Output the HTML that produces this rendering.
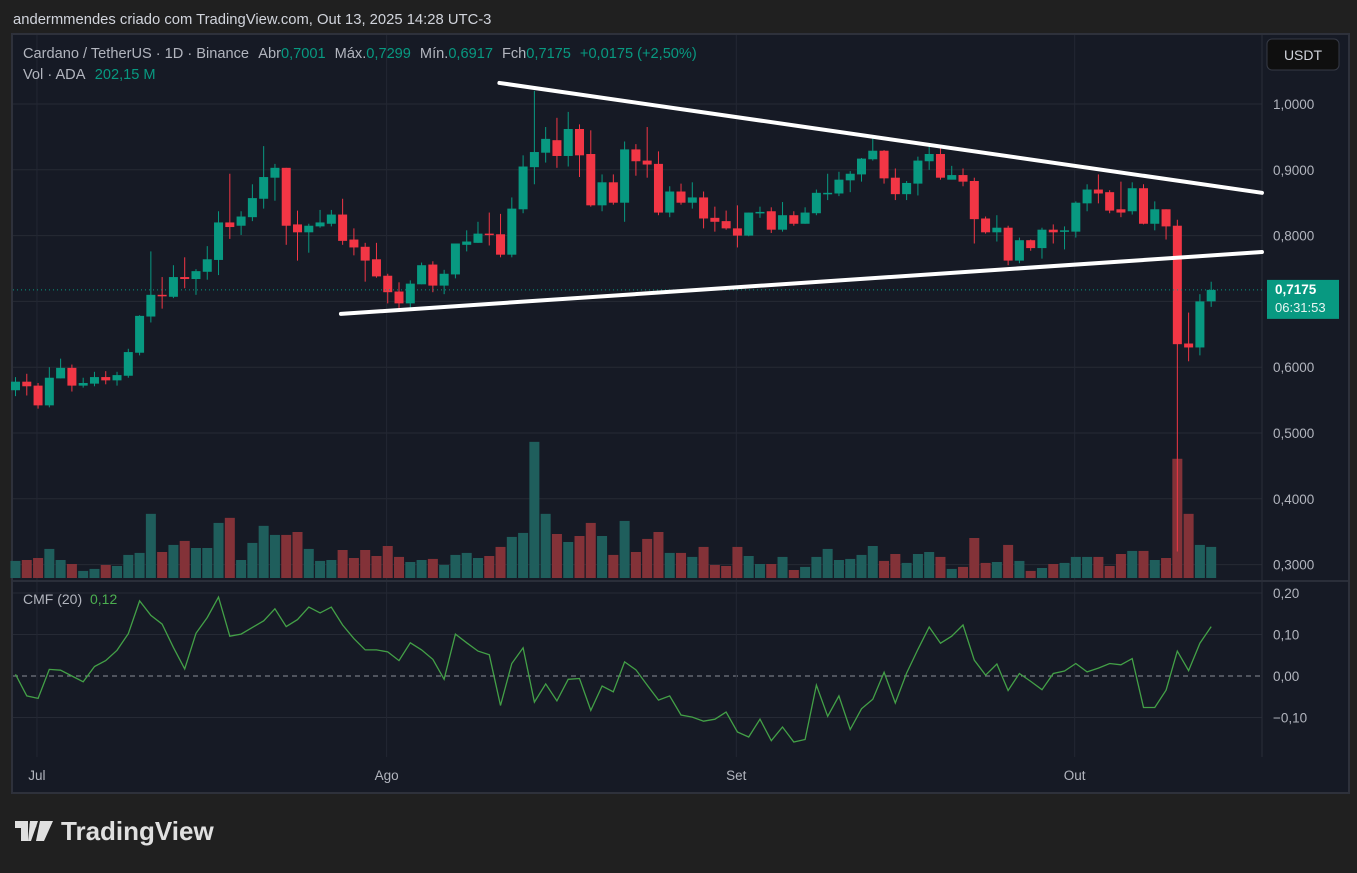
<!DOCTYPE html>
<html><head><meta charset="utf-8">
<style>
html,body{margin:0;padding:0;background:#202020;}
body{width:1357px;height:868px;overflow:hidden;font-family:"Liberation Sans",sans-serif;}
svg text{font-family:"Liberation Sans",sans-serif;}
</style></head>
<body>
<svg id="c" width="1357" height="868" xmlns="http://www.w3.org/2000/svg">
<rect x="0" y="0" width="1357" height="868" fill="#202020"/>
<text x="13" y="24" font-size="14.8" fill="#d1d4dc">andermmendes criado com TradingView.com, Out 13, 2025 14:28 UTC-3</text>
<rect x="12" y="34" width="1337" height="759" fill="#161a25" stroke="#2e313b" stroke-width="2"/>
<g id="grid"></g>
<g id="vol"></g>
<g id="candles"></g>
<g id="trend"></g>
<g id="cmf"></g>
<g id="axes"></g>
<text x="23" y="58" font-size="14.6" fill="#b2b5be">Cardano / TetherUS · 1D · Binance <tspan dx="6">Abr</tspan><tspan fill="#089981">0,7001</tspan><tspan dx="9">Máx.</tspan><tspan fill="#089981">0,7299</tspan><tspan dx="9">Mín.</tspan><tspan fill="#089981">0,6917</tspan><tspan dx="9">Fch</tspan><tspan fill="#089981">0,7175</tspan><tspan dx="9" fill="#089981">+0,0175 (+2,50%)</tspan></text>
<text x="23" y="79" font-size="14.6" fill="#b2b5be">Vol · ADA <tspan dx="6" fill="#089981">202,15 M</tspan></text>
<text x="23" y="604" font-size="14" fill="#b2b5be">CMF (20) <tspan dx="4" fill="#4caf50">0,12</tspan></text>
<g>
<rect x="1267" y="39" width="72" height="31" rx="5" fill="#0f0f0f" stroke="#363a45"/>
<text x="1303" y="60" font-size="14" fill="#d1d4dc" text-anchor="middle">USDT</text>
</g>
<g>
<path d="M15 821h13v20h-7v-13h-6z M30 821h8l-7 20h-3z" fill="#e0e0e0"/>
<circle cx="33" cy="825" r="3.5" fill="#e0e0e0"/>
<path d="M40 821h13l-9 20h-8z" fill="#e0e0e0"/>
<text x="61" y="840" font-size="26" font-weight="bold" fill="#e0e0e0">TradingView</text>
</g>
</svg>
<script>
const opens=[0.565,0.578,0.572,0.542,0.583,0.599,0.572,0.575,0.585,0.580,0.587,0.622,0.677,0.710,0.707,0.737,0.734,0.745,0.763,0.820,0.815,0.828,0.856,0.888,0.903,0.817,0.805,0.814,0.818,0.832,0.794,0.783,0.764,0.739,0.715,0.697,0.726,0.756,0.724,0.741,0.786,0.789,0.803,0.802,0.771,0.840,0.904,0.926,0.945,0.921,0.962,0.924,0.846,0.881,0.850,0.931,0.914,0.909,0.835,0.867,0.850,0.858,0.827,0.822,0.811,0.800,0.834,0.837,0.809,0.831,0.818,0.834,0.864,0.864,0.884,0.893,0.916,0.929,0.888,0.863,0.879,0.913,0.924,0.885,0.892,0.883,0.826,0.805,0.812,0.762,0.793,0.781,0.809,0.807,0.806,0.849,0.870,0.866,0.840,0.837,0.872,0.818,0.840,0.815,0.636,0.630,0.7001];
const closes=[0.578,0.571,0.542,0.584,0.599,0.572,0.576,0.585,0.580,0.588,0.623,0.678,0.710,0.709,0.737,0.734,0.746,0.764,0.820,0.813,0.829,0.857,0.889,0.903,0.815,0.805,0.815,0.820,0.832,0.792,0.782,0.762,0.738,0.714,0.697,0.727,0.755,0.724,0.742,0.788,0.791,0.803,0.802,0.771,0.841,0.905,0.927,0.947,0.921,0.962,0.922,0.846,0.881,0.850,0.931,0.913,0.908,0.835,0.867,0.850,0.858,0.826,0.821,0.811,0.800,0.835,0.836,0.809,0.831,0.818,0.835,0.865,0.865,0.885,0.894,0.917,0.929,0.887,0.863,0.880,0.914,0.924,0.888,0.892,0.882,0.825,0.805,0.812,0.762,0.793,0.781,0.809,0.805,0.808,0.850,0.870,0.864,0.838,0.835,0.872,0.818,0.840,0.814,0.635,0.630,0.700,0.7175];
const highs=[0.585,0.590,0.576,0.600,0.613,0.604,0.584,0.593,0.594,0.593,0.628,0.679,0.776,0.737,0.755,0.767,0.749,0.784,0.837,0.894,0.837,0.878,0.936,0.909,0.903,0.838,0.818,0.839,0.839,0.856,0.811,0.789,0.789,0.742,0.729,0.732,0.759,0.761,0.748,0.788,0.808,0.821,0.835,0.833,0.858,0.922,1.020,0.965,0.979,0.988,0.969,0.960,0.893,0.893,0.943,0.939,0.965,0.928,0.875,0.879,0.881,0.867,0.844,0.838,0.846,0.835,0.844,0.843,0.851,0.837,0.843,0.870,0.894,0.897,0.898,0.918,0.953,0.930,0.902,0.883,0.920,0.938,0.938,0.906,0.902,0.888,0.829,0.831,0.815,0.797,0.794,0.812,0.817,0.814,0.852,0.878,0.893,0.869,0.882,0.881,0.878,0.852,0.840,0.824,0.683,0.711,0.7299];
const lows=[0.556,0.557,0.537,0.539,0.583,0.563,0.569,0.571,0.574,0.572,0.584,0.618,0.668,0.689,0.705,0.720,0.710,0.733,0.740,0.795,0.801,0.822,0.841,0.853,0.786,0.762,0.774,0.812,0.814,0.786,0.770,0.730,0.736,0.697,0.685,0.688,0.726,0.714,0.711,0.735,0.776,0.789,0.785,0.767,0.767,0.834,0.878,0.911,0.903,0.905,0.889,0.844,0.837,0.847,0.821,0.891,0.888,0.831,0.828,0.847,0.841,0.811,0.806,0.809,0.782,0.799,0.827,0.804,0.806,0.815,0.818,0.831,0.854,0.860,0.866,0.882,0.914,0.879,0.854,0.854,0.861,0.900,0.885,0.887,0.875,0.788,0.803,0.791,0.755,0.758,0.777,0.765,0.788,0.779,0.797,0.837,0.849,0.834,0.828,0.832,0.817,0.808,0.794,0.320,0.609,0.618,0.6917];
const volumes=[111,117,130,189,117,91,46,59,85,78,150,163,417,169,215,241,195,195,358,391,117,228,339,280,280,299,189,111,117,182,130,182,143,208,137,104,117,124,85,150,163,130,143,202,267,293,885,417,286,234,273,358,273,150,371,169,254,299,163,163,137,202,85,78,202,143,91,91,137,52,72,137,189,117,124,150,208,111,156,98,156,169,137,59,72,260,98,104,215,111,46,65,91,98,137,137,137,78,156,176,176,117,130,775,417,215,202.15];
const cmfValues=[0.004,-0.048,-0.054,0.016,0.014,0.0,-0.014,0.023,0.037,0.062,0.102,0.181,0.146,0.125,0.069,0.017,0.103,0.141,0.190,0.096,0.101,0.117,0.133,0.162,0.119,0.136,0.166,0.152,0.166,0.123,0.090,0.063,0.063,0.058,0.037,0.080,0.063,0.040,-0.008,0.101,0.080,0.060,0.051,-0.071,0.030,0.068,-0.063,-0.019,-0.060,-0.008,-0.006,-0.083,-0.024,-0.038,0.034,0.015,-0.022,-0.058,-0.048,-0.094,-0.099,-0.109,-0.104,-0.087,-0.135,-0.147,-0.104,-0.156,-0.123,-0.159,-0.153,-0.022,-0.097,-0.048,-0.129,-0.079,-0.056,0.009,-0.065,0.007,0.064,0.118,0.079,0.096,0.123,0.038,0.002,0.029,-0.035,0.006,-0.013,-0.033,0.006,0.012,0.030,0.010,0.019,0.030,0.027,0.042,-0.076,-0.076,-0.034,0.060,0.013,0.079,0.119];
const priceTicks=[1.0,0.9,0.8,0.7,0.6,0.5,0.4,0.3];
const priceTickLabels=["1,0000","0,9000","0,8000","","0,6000","0,5000","0,4000","0,3000"];
const cmfTicks=[0.2,0.1,0,-0.1];
const cmfTickLabels=["0,20","0,10","0,00","−0,10"];
const monthIdx=[1.9,32.9,63.9,93.9];
const monthLabels=["Jul","Ago","Set","Out"];
const upperTrend=[[42.9,1.032],[110.5,0.865]];
const lowerTrend=[[28.85,0.681],[110.5,0.775]];
const lastPrice=0.7175;

const NS="http://www.w3.org/2000/svg";
const X=i=>15.5+i*11.28;
const Y=p=>104+(1-p)*658;
const VY=v=>578-v/6.5;
const CY=c=>676-c*415;
function mk(tag,attrs,parent){const e=document.createElementNS(NS,tag);for(const k in attrs)e.setAttribute(k,attrs[k]);document.getElementById(parent).appendChild(e);return e;}

priceTicks.forEach((p,k)=>{
 const l=mk('line',{x1:13,x2:1262,y1:Y(p),y2:Y(p),stroke:'#262a35','stroke-width':1},'grid');
 
 
 if(priceTickLabels[k]){const t=mk('text',{x:1273,y:Y(p)+5,'font-size':13.5,fill:'#b2b5be'},'axes');t.textContent=priceTickLabels[k];
 
 }
});
cmfTicks.forEach((c,k)=>{
 if(c!==0){const l=mk('line',{x1:13,x2:1262,y1:CY(c),y2:CY(c),stroke:'#262a35','stroke-width':1},'grid');
 
 }
 else{const l=mk('line',{x1:13,x2:1262,y1:CY(c),y2:CY(c),stroke:'#8a8d96','stroke-width':1,'stroke-dasharray':'5,4'},'grid');
 
 }
 const t=mk('text',{x:1273,y:CY(c)+5,'font-size':13.5,fill:'#b2b5be'},'axes');t.textContent=cmfTickLabels[k];
 
 
});
monthIdx.forEach((m,k)=>{
 const l=mk('line',{x1:X(m),x2:X(m),y1:35,y2:757,stroke:'#232733','stroke-width':1},'grid');
 
 
 const t=mk('text',{x:X(m),y:780,'font-size':13.5,fill:'#b2b5be','text-anchor':'middle'},'axes');t.textContent=monthLabels[k];
 
 
});
const sep=mk('line',{x1:13,x2:1348,y1:581,y2:581,stroke:'#2a2e39','stroke-width':2},'grid');


const sep2=mk('line',{x1:1262,x2:1262,y1:35,y2:757,stroke:'#2a2e39','stroke-width':1},'grid');



volumes.forEach((v,i)=>{
 const up=closes[i]>=opens[i];
 const r=mk('rect',{x:X(i)-5,y:VY(v),width:10,height:578-VY(v),fill:up?'#1f5e5c':'#833238'},'vol');
 
 
});
opens.forEach((o,i)=>{
 const c=closes[i],up=c>=o,col=up?'#089981':'#f23645';
 const w=mk('line',{x1:X(i),x2:X(i),y1:Y(highs[i]),y2:Y(lows[i]),stroke:col,'stroke-width':1},'candles');
 
 
 const top=Y(Math.max(o,c)),h=Math.max(1.5,Math.abs(Y(o)-Y(c)));
 const b=mk('rect',{x:X(i)-4.5,y:top,width:9,height:h,fill:col},'candles');
 
 
});
const lp=mk('line',{x1:13,x2:1262,y1:Y(lastPrice),y2:Y(lastPrice),stroke:'#089981','stroke-width':1,'stroke-dasharray':'1,3'},'candles');


const lb=mk('rect',{x:1267,y:Y(lastPrice)-10,width:72,height:39,fill:'#089981'},'axes');


const lt=mk('text',{x:1275,y:Y(lastPrice)+4,'font-size':13.5,'font-weight':'bold',fill:'#ffffff'},'axes');lt.textContent='0,7175';


const ct=mk('text',{x:1275,y:Y(lastPrice)+22,'font-size':13,fill:'#e8f5f2'},'axes');ct.textContent='06:31:53';


[upperTrend,lowerTrend].forEach((t,k)=>{
 const l=mk('line',{x1:X(t[0][0]),y1:Y(t[0][1]),x2:X(t[1][0]),y2:Y(t[1][1]),stroke:'#ffffff','stroke-width':4,'stroke-linecap':'round'},'trend');
 
 
});
const pts=cmfValues.map((c,i)=>X(i).toFixed(1)+','+CY(c).toFixed(1)).join(' ');
const pl=mk('polyline',{points:pts,fill:'none',stroke:'#43a047','stroke-width':1.3},'cmf');


</script>
</body></html>
